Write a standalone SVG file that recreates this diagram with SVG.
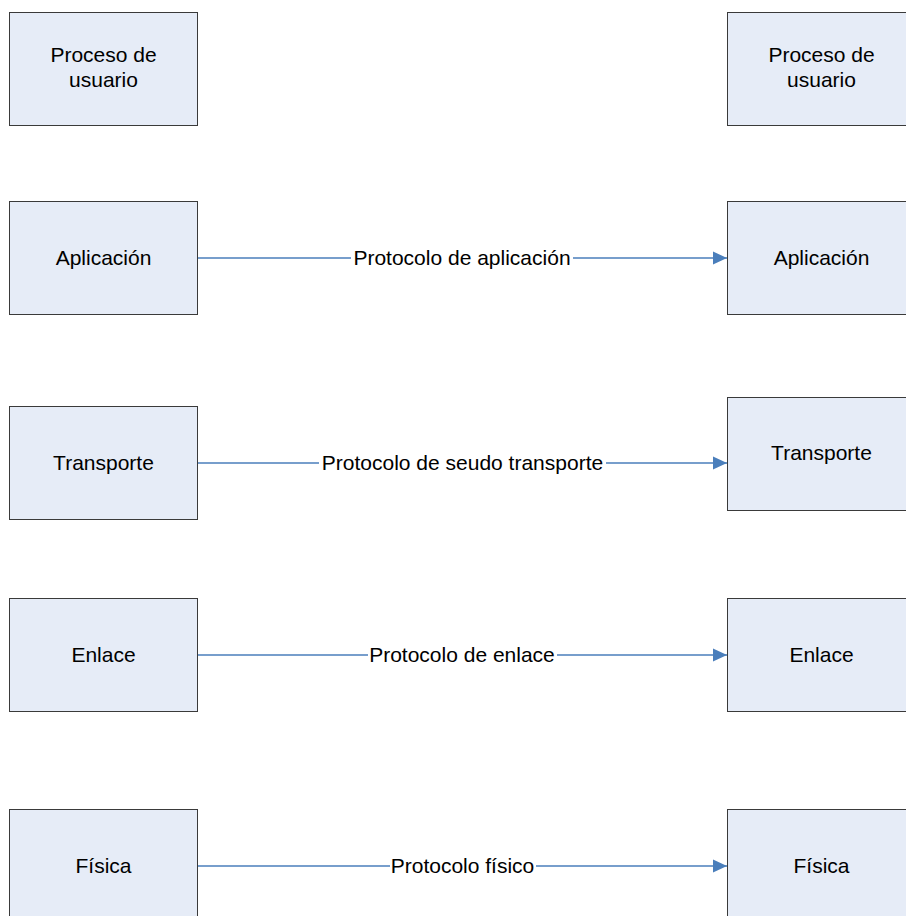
<svg xmlns="http://www.w3.org/2000/svg" width="906" height="916" viewBox="0 0 906 916">
<style>
.box{fill:#e6ecf7;stroke:#3a3a3a;stroke-width:1}
.t{font-family:"Liberation Sans",Arial,sans-serif;font-size:21px;fill:#000;text-anchor:middle}
.ln{stroke:#4a7ebb;stroke-width:1.3;fill:none}
.lb{fill:#fff}
</style>
<defs>
<marker id="ah" markerWidth="14" markerHeight="14" refX="14" refY="7" orient="auto" markerUnits="userSpaceOnUse">
<path d="M0,0.5 L14,7 L0,13.5 Z" fill="#4a7ebb"/>
</marker>
</defs>
<rect x="0" y="0" width="906" height="916" fill="#fff"/>
<g id="n-proceso-izq"><rect class="box" x="9.5" y="12.5" width="188" height="113"/><text class="t" x="103.5" y="62">Proceso de</text><text class="t" x="103.5" y="87">usuario</text></g>
<g id="n-proceso-der"><rect class="box" x="727.5" y="12.5" width="188" height="113"/><text class="t" x="821.5" y="62">Proceso de</text><text class="t" x="821.5" y="87">usuario</text></g>
<g id="n-aplicacion-izq"><rect class="box" x="9.5" y="201.5" width="188" height="113"/><text class="t" x="103.5" y="265">Aplicación</text></g>
<g id="n-aplicacion-der"><rect class="box" x="727.5" y="201.5" width="188" height="113"/><text class="t" x="821.5" y="265">Aplicación</text></g>
<g id="n-transporte-izq"><rect class="box" x="9.5" y="406.5" width="188" height="113"/><text class="t" x="103.5" y="470">Transporte</text></g>
<g id="n-transporte-der"><rect class="box" x="727.5" y="397.5" width="188" height="113"/><text class="t" x="821.5" y="460">Transporte</text></g>
<g id="n-enlace-izq"><rect class="box" x="9.5" y="598.5" width="188" height="113"/><text class="t" x="103.5" y="662">Enlace</text></g>
<g id="n-enlace-der"><rect class="box" x="727.5" y="598.5" width="188" height="113"/><text class="t" x="821.5" y="662">Enlace</text></g>
<g id="n-fisica-izq"><rect class="box" x="9.5" y="809.5" width="188" height="113"/><text class="t" x="103.5" y="873">Física</text></g>
<g id="n-fisica-der"><rect class="box" x="727.5" y="809.5" width="188" height="113"/><text class="t" x="821.5" y="873">Física</text></g>
<g id="connectors">
<line class="ln" x1="198" y1="258" x2="727" y2="258" marker-end="url(#ah)"/>
<rect class="lb" x="351" y="246" width="222" height="24"/>
<text class="t" x="462" y="265">Protocolo de aplicación</text>
<line class="ln" x1="198" y1="463" x2="727" y2="463" marker-end="url(#ah)"/>
<rect class="lb" x="319" y="451" width="287" height="24"/>
<text class="t" x="462.5" y="470">Protocolo de seudo transporte</text>
<line class="ln" x1="198" y1="655" x2="727" y2="655" marker-end="url(#ah)"/>
<rect class="lb" x="368" y="643" width="189" height="24"/>
<text class="t" x="462" y="662">Protocolo de enlace</text>
<line class="ln" x1="198" y1="866" x2="727" y2="866" marker-end="url(#ah)"/>
<rect class="lb" x="390" y="854" width="146" height="24"/>
<text class="t" x="462.5" y="873">Protocolo físico</text>
</g>
</svg>
